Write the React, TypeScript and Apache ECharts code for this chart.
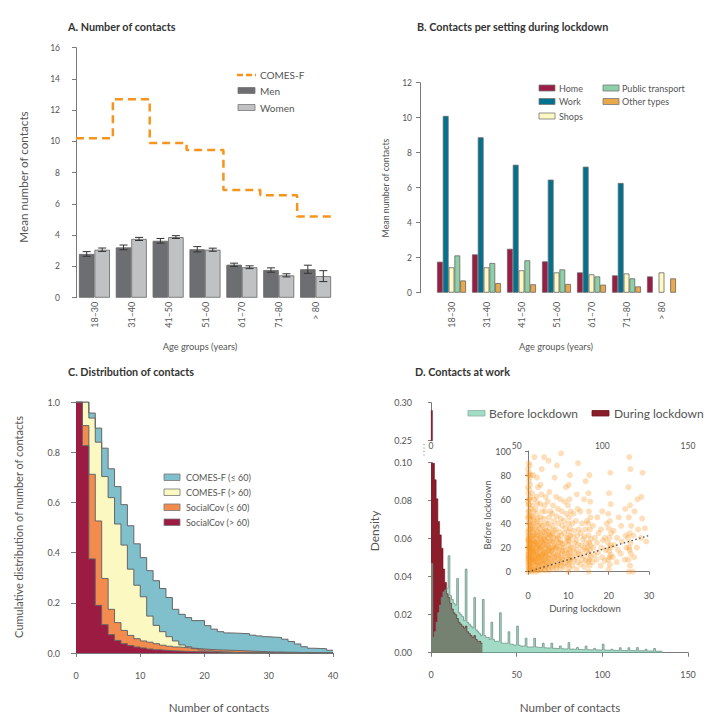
import React, { useEffect, useRef } from 'react';
import * as echarts from 'echarts';

// ---------------- data ----------------
const ageGroups = ['18–30', '31–40', '41–50', '51–60', '61–70', '71–80', '> 80'];
const comesFMean = [10.2, 12.7, 9.9, 9.45, 6.9, 6.55, 5.2];
const menMean = [2.8, 3.22, 3.64, 3.1, 2.11, 1.77, 1.82];
const menErr = [0.15, 0.15, 0.15, 0.17, 0.1, 0.14, 0.26];
const womenMean = [3.07, 3.76, 3.88, 3.07, 1.95, 1.43, 1.38];
const womenErr = [0.11, 0.1, 0.09, 0.1, 0.09, 0.1, 0.35];

const settingHome = [1.77, 2.19, 2.51, 1.79, 1.16, 0.99, 0.93];
const settingWork = [10.1, 8.88, 7.31, 6.46, 7.2, 6.27, null];
const settingShops = [1.45, 1.45, 1.28, 1.16, 1.05, 1.1, 1.16];
const settingTransport = [2.13, 1.7, 1.85, 1.33, 0.93, 0.82, null];
const settingOther = [0.7, 0.55, 0.48, 0.5, 0.46, 0.36, 0.82];

// complementary cumulative distribution, value on [n, n+1), n = 0..39
const ccdfComesYoung = [1.0, 1.0, 0.956, 0.896, 0.816, 0.734, 0.663, 0.591, 0.507, 0.435, 0.38, 0.328, 0.288, 0.257, 0.221, 0.174, 0.154, 0.141, 0.129, 0.129, 0.109, 0.095, 0.085, 0.08, 0.079, 0.078, 0.077, 0.071, 0.068, 0.065, 0.063, 0.062, 0.055, 0.046, 0.036, 0.025, 0.019, 0.018, 0.017, 0.011];
const ccdfComesOld = [1.0, 1.0, 0.936, 0.84, 0.703, 0.619, 0.514, 0.43, 0.334, 0.27, 0.224, 0.147, 0.11, 0.085, 0.065, 0.048, 0.032, 0.025, 0.017, 0.012, 0.008, 0.006, 0.004, 0.003, 0.002, 0.002, 0.001, 0.001, 0.001, 0.001, 0, 0, 0, 0, 0, 0, 0, 0, 0, 0];
const ccdfSocialYoung = [1.0, 0.906, 0.712, 0.526, 0.297, 0.174, 0.121, 0.09, 0.07, 0.057, 0.048, 0.043, 0.037, 0.031, 0.027, 0.024, 0.022, 0.02, 0.018, 0.016, 0.014, 0.013, 0.012, 0.011, 0.01, 0.009, 0.008, 0.007, 0.006, 0.005, 0.004, 0.004, 0.003, 0.003, 0.002, 0.002, 0.002, 0.001, 0.001, 0.001];
const ccdfSocialOld = [1.0, 0.826, 0.375, 0.19, 0.113, 0.073, 0.05, 0.037, 0.03, 0.024, 0.02, 0.016, 0.013, 0.011, 0.009, 0.008, 0.007, 0.006, 0.005, 0.005, 0.004, 0.004, 0.003, 0.003, 0.002, 0.002, 0.002, 0.001, 0.001, 0.001, 0.001, 0.001, 0.001, 0, 0, 0, 0, 0, 0, 0];

// work contact densities, bins of width 1 starting at 0
const densityBefore = [
  0.047, 0.008, 0.011, 0.016, 0.021, 0.025, 0.029, 0.032, 0.033, 0.034,
  0.051, 0.03, 0.028, 0.026, 0.025, 0.039, 0.021, 0.02, 0.019, 0.017,
  0.044, 0.016, 0.015, 0.014, 0.013, 0.029, 0.012, 0.011, 0.01, 0.009,
  0.028, 0.009, 0.008, 0.008, 0.007, 0.016, 0.007, 0.006, 0.006, 0.006,
  0.021, 0.005, 0.005, 0.005, 0.005, 0.011, 0.0045, 0.0045, 0.004, 0.004,
  0.014, 0.004, 0.0035, 0.0035, 0.0035, 0.0076, 0.003, 0.003, 0.003, 0.003,
  0.0076, 0.003, 0.0028, 0.0028, 0.0027, 0.005, 0.0026, 0.0025, 0.0025, 0.0024,
  0.005, 0.0023, 0.0023, 0.0022, 0.0022, 0.0035, 0.0021, 0.002, 0.002, 0.002,
  0.0053, 0.0019, 0.0019, 0.0018, 0.0018, 0.0028, 0.0017, 0.0017, 0.0016, 0.0016,
  0.0035, 0.0016, 0.0015, 0.0015, 0.0015, 0.0023, 0.0015, 0.0014, 0.0014, 0.0014,
  0.0045, 0.0014, 0.0013, 0.0013, 0.0013, 0.0018, 0.0013, 0.0012, 0.0012, 0.0012,
  0.0026, 0.0012, 0.0012, 0.0011, 0.0011, 0.0026, 0.0011, 0.0011, 0.001, 0.001,
  0.0027, 0.001, 0.001, 0.001, 0.0009, 0.0018, 0.0009, 0.0009, 0.0009, 0.0008,
  0.0022, 0.0008, 0.0008, 0.0008, 0.0008,
];
const densityDuring = [
  0.29, 0.0997, 0.091, 0.081, 0.069, 0.062, 0.055, 0.044, 0.037, 0.031,
  0.029, 0.026, 0.023, 0.021, 0.02, 0.018, 0.016, 0.015, 0.014, 0.013,
  0.014, 0.011, 0.01, 0.009, 0.008, 0.009, 0.007, 0.006, 0.006, 0.005,
];

// inset: [contacts during lockdown, contacts before lockdown]
const workPairs = [
  [0.1,0],[0.4,1],[0.2,2],[0.6,3],[0.1,4],[0.3,5],[0.5,6],[0.2,7],[0.0,8],[0.4,9],[0.2,10],[0.6,10],[0.1,11],[0.3,12],[0.5,13],[0.0,14],[0.4,15],[0.2,15],[0.6,16],[0.1,17],[0.3,18],[0.5,19],[0.2,20],[0.0,20],[0.4,21],[0.1,22],[0.6,23],[0.3,24],[0.2,25],[0.5,25],[0.0,26],[0.4,27],[0.2,28],[0.1,30],[0.5,30],[0.3,32],[0.0,33],[0.4,35],[0.2,36],[0.6,38],[0.1,40],[0.3,40],[0.5,42],[0.2,44],[0.0,45],[0.4,47],[0.1,50],[0.3,50],[0.6,52],[0.2,55],[0.0,58],[0.4,60],[0.2,60],[0.5,62],[0.1,65],[0.3,68],[0.0,70],[0.5,72],[0.2,75],[0.4,78],[0.1,80],[0.6,80],[0.3,82],[0.0,85],[0.4,88],[0.2,90],
  [1.0,0],[1.3,2],[0.9,4],[1.5,5],[1.1,7],[1.4,8],[1.2,10],[0.9,11],[1.6,12],[1.0,14],[1.3,15],[1.1,17],[1.5,18],[0.9,20],[1.2,20],[1.4,22],[1.0,24],[1.6,25],[1.2,27],[0.9,29],[1.3,30],[1.1,33],[1.5,35],[1.0,38],[1.3,40],[1.2,43],[0.9,46],[1.4,50],[1.1,55],[1.5,60],[1.0,65],[1.3,80],[1.6,95],
  [2.0,0],[2.3,2],[1.9,3],[2.5,5],[2.1,6],[2.4,8],[1.8,10],[2.2,11],[2.6,12],[2.0,14],[2.3,15],[1.9,17],[2.5,19],[2.1,20],[2.4,22],[2.0,24],[2.2,25],[2.6,27],[1.9,30],[2.3,31],[2.1,35],[2.5,38],[2.0,40],[2.4,44],[2.2,48],[1.9,52],[2.3,57],[2.1,62],[2.5,70],[2.2,78],
  [3.0,1],[3.3,3],[2.9,5],[3.5,6],[3.1,8],[3.4,10],[2.8,12],[3.2,13],[3.6,15],[3.0,16],[3.3,18],[2.9,20],[3.5,21],[3.1,23],[3.4,25],[3.0,28],[3.2,30],[3.6,33],[2.9,36],[3.3,40],[3.1,45],[3.5,50],[3.0,56],[3.3,64],[3.1,72],[3.4,85],
  [4.0,2],[4.3,4],[3.9,6],[4.5,8],[4.1,10],[4.4,12],[3.8,14],[4.2,15],[4.6,17],[4.0,19],[4.3,20],[3.9,23],[4.5,25],[4.1,27],[4.4,30],[4.0,33],[4.2,36],[4.6,40],[3.9,44],[4.3,50],[4.1,55],[4.4,62],[4.0,95],
  [5.0,3],[5.3,5],[4.9,8],[5.5,10],[5.1,12],[5.4,14],[4.8,16],[5.2,18],[5.6,20],[5.0,22],[5.3,25],[4.9,28],[5.5,30],[5.1,33],[5.4,36],[5.0,40],[5.2,45],[5.6,50],[4.9,58],[5.3,66],[5.1,92],
  [6.0,4],[6.3,6],[5.9,8],[6.5,10],[6.1,13],[6.4,15],[5.8,17],[6.2,20],[6.6,22],[6.0,25],[6.3,28],[5.9,30],[6.5,34],[6.1,38],[6.4,42],[6.0,48],[6.2,55],[6.6,78],
  [7.0,3],[7.3,6],[6.9,9],[7.5,11],[7.1,14],[7.4,16],[6.8,19],[7.2,21],[7.6,24],[7.0,27],[7.3,30],[6.9,35],[7.5,40],[7.1,46],[7.4,52],[7.0,62],[7.2,88],
  [8.0,2],[8.3,5],[7.9,8],[8.5,10],[8.1,12],[8.4,15],[7.8,18],[8.2,20],[8.6,23],[8.0,26],[8.3,30],[7.9,33],[8.5,38],[8.1,44],[8.4,50],[8.0,60],[8.2,98],
  [9.0,4],[9.3,7],[8.9,10],[9.5,12],[9.1,15],[9.4,18],[8.8,20],[9.2,24],[9.6,28],[9.0,32],[9.3,36],[8.9,42],[9.5,48],[9.1,58],[9.4,70],
  [10.0,0],[10.3,3],[9.9,6],[10.5,10],[10.1,10],[10.4,13],[9.8,15],[10.2,18],[10.6,20],[10.0,22],[10.3,25],[9.9,28],[10.5,30],[10.1,33],[10.4,36],[10.0,40],[10.2,45],[10.6,50],[9.9,55],[10.3,60],[10.1,72],[10.4,80],
  [11.0,5],[11.4,9],[10.9,12],[11.5,16],[11.2,20],[11.6,24],[11.1,29],[11.4,34],[11.0,40],[11.3,48],[12.0,2],[12.3,8],[11.9,12],[12.5,15],[12.1,18],[12.4,22],[12.0,26],[12.2,30],[12.6,35],[11.9,42],[12.3,52],[12.1,64],[12.4,90],
  [13.0,6],[13.4,10],[12.9,14],[13.5,18],[13.2,22],[13.6,27],[13.1,32],[13.4,40],[13.0,50],[14.0,4],[14.3,9],[13.9,13],[14.5,17],[14.1,20],[14.4,24],[14.0,29],[14.2,35],[14.6,42],[13.9,60],[14.3,75],
  [15.0,0],[15.3,5],[14.9,8],[15.5,12],[15.1,15],[15.4,18],[14.8,20],[15.2,24],[15.6,27],[15.0,30],[15.3,35],[14.9,40],[15.5,45],[15.1,50],[15.4,58],[15.0,65],[15.2,80],
  [16.0,8],[16.4,14],[16.2,20],[16.6,28],[16.1,38],[17.0,10],[17.3,16],[17.1,24],[17.5,32],[17.2,45],[18.0,5],[18.4,12],[18.2,20],[18.6,26],[18.1,35],[18.4,50],[19.0,9],[19.3,18],[19.1,28],[19.5,40],
  [20.0,2],[20.3,6],[19.9,10],[20.5,14],[20.1,17],[20.4,20],[19.8,24],[20.2,28],[20.6,32],[20.0,36],[20.3,42],[19.9,48],[20.5,56],[20.1,65],[20.4,82],
  [21.0,12],[21.4,22],[21.2,34],[22.0,8],[22.3,18],[22.1,28],[22.5,45],[23.0,15],[23.3,25],[23.1,38],[24.0,10],[24.4,20],[24.2,30],[24.1,52],
  [25.0,0],[25.3,5],[24.9,10],[25.5,15],[25.1,20],[25.4,24],[24.8,28],[25.2,32],[25.6,38],[25.0,45],[25.3,55],[24.9,70],[25.1,95],[25.4,85],
  [26.0,0],[26.3,12],[26.1,30],[26.4,50],[27.0,20],[27.3,35],[27.1,60],[28.0,28],[28.3,44],[28.1,62],[28.4,82],[29.0,36],[29.3,25],
  [0.3,3],[0.5,8],[0.2,12],[0.6,18],[0.4,22],[0.1,27],[0.5,34],[0.3,46],[0.2,56],
  [1.2,1],[1.5,9],[1.0,12],[1.4,16],[1.2,19],[1.6,23],[1.1,26],[1.4,31],[1.0,36],[1.3,45],
  [2.2,1],[2.5,7],[2.0,9],[2.4,13],[2.1,16],[2.6,21],[2.2,23],[2.0,28],[2.4,33],[2.3,42],
  [3.2,2],[3.5,9],[3.0,11],[3.4,14],[3.1,19],[3.6,24],[3.2,27],[3.0,32],[3.5,38],
  [4.2,1],[4.5,5],[4.0,9],[4.4,13],[4.1,16],[4.6,22],[4.2,26],[4.0,29],[4.5,34],
  [5.2,1],[5.5,7],[5.0,11],[5.4,17],[5.1,21],[5.6,26],[5.2,31],
  [6.2,2],[6.5,12],[6.0,18],[6.4,24],[6.1,32],
  [7.2,5],[7.5,13],[7.0,20],[7.4,28],
  [8.2,7],[8.5,17],[8.0,24],
  [10.2,8],[10.5,16],[10.0,26],
  [15.2,10],[15.5,22],[20.2,12],[20.5,22],[25.2,18],
];
const identityLine = [[0, 0], [30, 30]];

// ---------------- styling ----------------
const FONT = 'Lato, "Noto Sans", sans-serif';
const AX = '#7a7a7a';
const TXT = '#555';

const C_MEN = '#6d6e72';
const C_WOMEN = '#c0c1c3';
const C_COMES = '#f7941d';
const C_HOME = '#9b1b44';
const C_WORK = '#00718f';
const C_SHOPS = '#fdf8c4';
const C_PT = '#8dd0a8';
const C_OTHER = '#e9a94b';
const C_BLUE = '#80bfcc';
const C_YELLOW = '#fbf8c2';
const C_ORANGE = '#f38b4e';
const C_CRIMSON = '#9b1b42';
const C_DURING = '#8c1d2b';
const C_BEFORE = '#66c5a0';

function stepPoints(values: number[]) {
  const pts: number[][] = values.map((v, i) => [i, v]);
  pts.push([values.length, values[values.length - 1]]);
  return pts;
}

function txt(text: string, x: number, y: number, o: any = {}) {
  const align = o.align || 'left';
  return {
    type: 'text',
    x,
    y,
    rotation: o.rot || 0,
    silent: true,
    z: 100,
    style: {
      text,
      fill: o.color || TXT,
      font: `${o.weight || 'normal'} ${o.size || 12}px ${FONT}`,
      align,
      verticalAlign: 'middle',
      textAlign: align,
      textVerticalAlign: 'middle',
    },
  };
}
function swatch(x: number, y: number, w: number, h: number, fill: string, stroke = '#777') {
  return { type: 'rect', silent: true, z: 100, shape: { x, y, width: w, height: h }, style: { fill, stroke, lineWidth: 0.8 } };
}

const tick = (len = 4) => ({ show: true, length: len, inside: false, lineStyle: { color: AX, width: 1 } });
const line = (show = true) => ({ show, lineStyle: { color: AX, width: 1 } });
const lab = (o: any = {}) => ({ color: TXT, fontSize: 9, fontFamily: FONT, ...o });
const noSplit = { show: false };

function buildOption() {
  const grid = [
    { left: 76, top: 47.7, width: 258, height: 250 }, // A
    { left: 434, top: 82.7, width: 245, height: 210 }, // B
    { left: 76, top: 402, width: 257, height: 251 }, // C
    { left: 431, top: 402.7, width: 257, height: 38 }, // D top
    { left: 431, top: 462.7, width: 257, height: 190 }, // D bottom
    { left: 528, top: 451, width: 121, height: 120.7 }, // inset
  ].map((g) => ({ ...g, containLabel: false, outerBoundsMode: 'none', show: false }));

  const xAxis: any[] = [
    { gridIndex: 0, type: 'category', data: ageGroups, axisLine: { show: false }, axisTick: { show: false }, axisLabel: lab({ rotate: 90, margin: 4 }), splitLine: noSplit },
    { gridIndex: 0, type: 'value', min: 0, max: 7, show: false, splitLine: noSplit },
    { gridIndex: 1, type: 'category', data: ageGroups, axisLine: { show: false }, axisTick: { show: false }, axisLabel: lab({ rotate: 90, margin: 9 }), splitLine: noSplit },
    { gridIndex: 2, type: 'value', min: 0, max: 40, interval: 10, offset: 8, axisLine: line(), axisTick: tick(4), axisLabel: lab({ margin: 10 }), splitLine: noSplit },
    { gridIndex: 3, type: 'value', min: 0, max: 150, interval: 50, axisLine: { show: false }, axisTick: { show: false }, axisLabel: lab({ margin: 1, fontSize: 8.5 }), splitLine: noSplit },
    { gridIndex: 4, type: 'value', min: 0, max: 150, interval: 50, offset: 8, axisLine: line(), axisTick: tick(4), axisLabel: lab({ margin: 9 }), splitLine: noSplit },
    { gridIndex: 5, type: 'value', min: 0, max: 30, interval: 10, offset: 13, axisLine: line(), axisTick: tick(3), axisLabel: lab({ margin: 6 }), splitLine: noSplit },
  ];
  const yAxis: any[] = [
    { gridIndex: 0, type: 'value', min: 0, max: 16, interval: 2, offset: 8, axisLine: line(), axisTick: tick(4), axisLabel: lab({ margin: 8, fontSize: 8.5 }), splitLine: noSplit },
    { gridIndex: 1, type: 'value', min: 0, max: 12, interval: 2, offset: 14, axisLine: line(), axisTick: tick(4), axisLabel: lab({ margin: 8, fontSize: 8.5 }), splitLine: noSplit },
    { gridIndex: 2, type: 'value', min: 0, max: 1, interval: 0.2, axisLine: line(), axisTick: tick(5), axisLabel: lab({ margin: 16, formatter: (v: number) => v.toFixed(1) }), splitLine: noSplit },
    { gridIndex: 3, type: 'value', min: 0.25, max: 0.3, interval: 0.05, offset: 7, axisLine: line(), axisTick: tick(3), axisLabel: lab({ margin: 12, formatter: (v: number) => v.toFixed(2) }), splitLine: noSplit },
    { gridIndex: 4, type: 'value', min: 0, max: 0.1, interval: 0.02, offset: 7, axisLine: line(), axisTick: tick(3), axisLabel: lab({ margin: 12, formatter: (v: number) => v.toFixed(2) }), splitLine: noSplit },
    { gridIndex: 5, type: 'value', min: 0, max: 100, interval: 20, offset: 12, axisLine: line(), axisTick: tick(3), axisLabel: lab({ margin: 5 }), splitLine: noSplit },
  ];

  const barBorder = { borderColor: '#666', borderWidth: 0.8 };
  const BW_A = 15.5;

  const errorData = menMean
    .map((m, i) => [i, m, menErr[i], -1])
    .concat(womenMean.map((m, i) => [i, m, womenErr[i], 1]));

  const ccdfSeries = (name: string, vals: number[], color: string) => ({
    name, type: 'line', xAxisIndex: 3, yAxisIndex: 2, step: 'end', symbol: 'none', clip: true,
    data: stepPoints(vals),
    lineStyle: { color: '#666', width: 1 },
    areaStyle: { color, opacity: 1 },
  });

  const series: any[] = [
    // A
    { name: 'Men', type: 'bar', xAxisIndex: 0, yAxisIndex: 0, data: menMean, barWidth: BW_A, barGap: '0%', itemStyle: { color: C_MEN, ...barBorder } },
    { name: 'Women', type: 'bar', xAxisIndex: 0, yAxisIndex: 0, data: womenMean, barWidth: BW_A, barGap: '0%', itemStyle: { color: C_WOMEN, ...barBorder } },
    {
      name: 'errors', type: 'custom', xAxisIndex: 0, yAxisIndex: 0, data: errorData, encode: { x: 0, y: 1 }, z: 5,
      renderItem: (params: any, api: any) => {
        const i = api.value(0);
        const m = api.value(1);
        const e = api.value(2);
        const side = api.value(3);
        const c = api.coord([i, m]);
        const x = c[0] + (side * BW_A) / 2;
        const top = api.coord([i, m + e])[1];
        const bot = api.coord([i, m - e])[1];
        const st = { stroke: '#333', lineWidth: 1 };
        return {
          type: 'group',
          children: [
            { type: 'line', shape: { x1: x, y1: top, x2: x, y2: bot }, style: st },
            { type: 'line', shape: { x1: x - 4, y1: top, x2: x + 4, y2: top }, style: st },
            { type: 'line', shape: { x1: x - 4, y1: bot, x2: x + 4, y2: bot }, style: st },
          ],
        };
      },
    },
    {
      name: 'COMES-F', type: 'line', xAxisIndex: 1, yAxisIndex: 0, step: 'end', symbol: 'none',
      data: stepPoints(comesFMean), lineStyle: { color: C_COMES, width: 2.5, type: [8, 5] },
    },
    // B
    ...[
      ['Home', settingHome, C_HOME],
      ['Work', settingWork, C_WORK],
      ['Shops', settingShops, C_SHOPS],
      ['Public transport', settingTransport, C_PT],
      ['Other types', settingOther, C_OTHER],
    ].map(([name, data, color]) => ({
      name, type: 'bar', xAxisIndex: 2, yAxisIndex: 1, data, barWidth: 5.8, barGap: '0%',
      itemStyle: { color, ...barBorder },
    })),
    // C
    ccdfSeries('COMES-F (≤ 60)', ccdfComesYoung, C_BLUE),
    ccdfSeries('COMES-F (> 60)', ccdfComesOld, C_YELLOW),
    ccdfSeries('SocialCov (≤ 60)', ccdfSocialYoung, C_ORANGE),
    ccdfSeries('SocialCov (> 60)', ccdfSocialOld, C_CRIMSON),
    // D top: bins as bars, clipped to the 0.25–0.30 window
    {
      name: 'During top', type: 'bar', xAxisIndex: 4, yAxisIndex: 3, clip: true,
      data: densityDuring.map((v, i) => [i + 0.5, v]), barWidth: 1.75,
      itemStyle: { color: C_DURING, borderColor: '#6a1520', borderWidth: 0.4 },
    },
    // D bottom
    {
      name: 'During lockdown', type: 'line', xAxisIndex: 5, yAxisIndex: 4, step: 'end', symbol: 'none', clip: true,
      data: stepPoints(densityDuring), lineStyle: { color: '#6a1520', width: 0.6 }, areaStyle: { color: C_DURING, opacity: 1 },
    },
    {
      name: 'Before lockdown', type: 'line', xAxisIndex: 5, yAxisIndex: 4, step: 'end', symbol: 'none', clip: true,
      data: stepPoints(densityBefore), lineStyle: { color: '#6f8f83', width: 0.8 }, areaStyle: { color: C_BEFORE, opacity: 0.6 },
    },
    // inset
    {
      name: 'pairs', type: 'scatter', xAxisIndex: 6, yAxisIndex: 5, data: workPairs, symbol: 'circle', symbolSize: 6,
      itemStyle: { color: C_COMES, opacity: 0.3 }, z: 10,
    },
    {
      name: 'identity', type: 'line', xAxisIndex: 6, yAxisIndex: 5, data: identityLine, symbol: 'none', z: 11,
      lineStyle: { color: '#444', width: 1.2, type: [1.5, 2.5] },
    },
  ];

  const graphic: any[] = [
    // titles
    txt('A. Number of contacts', 68, 26, { weight: 'bold', size: 10.8, color: '#333' }),
    txt('B. Contacts per setting during lockdown', 417, 26, { weight: 'bold', size: 10.8, color: '#333' }),
    txt('C. Distribution of contacts', 68, 371, { weight: 'bold', size: 10.8, color: '#333' }),
    txt('D. Contacts at work', 415, 371, { weight: 'bold', size: 10.8, color: '#333' }),
    // axis names
    txt('Mean number of contacts', 23, 177, { size: 11.7, rot: Math.PI / 2, align: 'center' }),
    txt('Age groups (years)', 200, 346, { size: 9.3, align: 'center' }),
    txt('Mean number of contacts', 385, 188, { size: 8.8, rot: Math.PI / 2, align: 'center' }),
    txt('Age groups (years)', 556, 346, { size: 9.2, align: 'center' }),
    txt('Cumulative distribution of number of contacts', 18.5, 527, { size: 11, rot: Math.PI / 2, align: 'center' }),
    txt('Number of contacts', 219, 707, { size: 11.6, align: 'center' }),
    txt('Density', 374, 531, { size: 12, rot: Math.PI / 2, align: 'center' }),
    txt('Number of contacts', 570, 707, { size: 11.6, align: 'center' }),
    txt('During lockdown', 585, 608, { size: 9.6, align: 'center' }),
    txt('Before lockdown', 487, 515, { size: 9.3, rot: Math.PI / 2, align: 'center' }),
    // axis break marker
    { type: 'line', silent: true, shape: { x1: 424, y1: 444, x2: 424, y2: 457 }, style: { stroke: AX, lineWidth: 1, lineDash: [1, 2.5] } },
    // legend A
    { type: 'line', silent: true, shape: { x1: 237, y1: 75, x2: 256, y2: 75 }, style: { stroke: C_COMES, lineWidth: 2.5, lineDash: [6, 3] } },
    txt('COMES-F', 260, 75, { size: 10 }),
    swatch(238, 87.5, 17, 6, C_MEN),
    txt('Men', 260, 90.5, { size: 10 }),
    swatch(238, 104.5, 17, 6, C_WOMEN),
    txt('Women', 260, 107.5, { size: 10 }),
    // legend B
    swatch(539, 85, 16, 6, C_HOME),
    txt('Home', 559, 88, { size: 9 }),
    swatch(539, 98.5, 16, 6, C_WORK),
    txt('Work', 559, 101.5, { size: 9 }),
    swatch(539, 113, 16, 6, C_SHOPS),
    txt('Shops', 559, 116, { size: 9 }),
    swatch(603, 85, 16, 6, C_PT),
    txt('Public transport', 622, 88, { size: 9 }),
    swatch(603, 98.5, 16, 6, C_OTHER),
    txt('Other types', 622, 101.5, { size: 9 }),
    // legend C
    swatch(164, 474, 16, 6.5, C_BLUE),
    txt('COMES-F (≤ 60)', 186, 477.3, { size: 9 }),
    swatch(164, 489, 16, 6.5, C_YELLOW),
    txt('COMES-F (> 60)', 186, 492.3, { size: 9 }),
    swatch(164, 504, 16, 6.5, C_ORANGE),
    txt('SocialCov (≤ 60)', 186, 507.3, { size: 9 }),
    swatch(164, 519, 16, 6.5, C_CRIMSON),
    txt('SocialCov (> 60)', 186, 522.3, { size: 9 }),
    // legend D
    swatch(468, 410.5, 17, 5.5, '#a3dcc6', '#8aaea0'),
    txt('Before lockdown', 489, 413.3, { size: 12 }),
    swatch(592, 410.5, 17, 5.5, C_DURING, '#6a1520'),
    txt('During lockdown', 614, 413.3, { size: 12 }),
  ];

  return {
    animation: false,
    backgroundColor: '#ffffff',
    textStyle: { fontFamily: FONT },
    grid,
    xAxis,
    yAxis,
    series,
    graphic,
  };
}

export default function App() {
  const ref = useRef<HTMLDivElement>(null);
  useEffect(() => {
    const chart = echarts.init(ref.current as HTMLDivElement, null, { renderer: 'svg' });
    chart.setOption(buildOption() as any);
    return () => chart.dispose();
  }, []);
  return (
    <div
      ref={ref}
      style={{ position: 'fixed', left: 0, top: 0, width: 725, height: 723, background: '#fff' }}
    />
  );
}
